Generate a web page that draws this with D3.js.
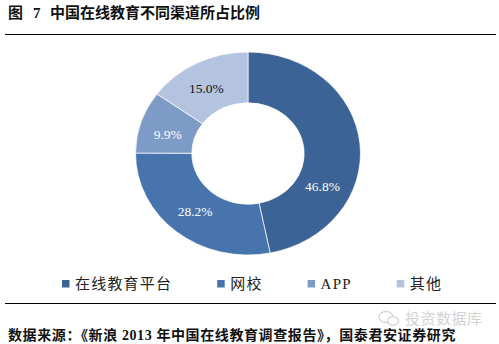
<!DOCTYPE html>
<html>
<head>
<meta charset="utf-8">
<script src="https://cdn.jsdelivr.net/npm/d3@7"></script>
<style>
  html, body { margin: 0; padding: 0; background: #fff; }
  svg { display: block; }
</style>
</head>
<body>
<svg id="chart" width="499" height="344"></svg>
<script>
// Share of online-education users by channel (%)
const categories = ["在线教育平台", "网校", "APP", "其他"];
const shares = [46.8, 28.2, 9.9, 15.0];
const valueLabels = ["46.8%", "28.2%", "9.9%", "15.0%"];
const colors = ["#3b6395", "#4774ad", "#7e9bc8", "#b4c4e0"];
const titleParts = ["图", "7", "中国在线教育不同渠道所占比例"];
const sourceText = "数据来源：《新浪 2013 年中国在线教育调查报告》，国泰君安证券研究";
const watermarkText = "投资数据库";

const W = 499, H = 344;
const svg = d3.select("#chart");
const serif = "'Liberation Serif', 'Noto Sans CJK SC', serif";
const cjk = "'Noto Sans CJK SC', 'Liberation Serif', sans-serif";

// Title: figure label, number and caption
const title = svg.append("text")
  .attr("y", 18)
  .attr("font-family", cjk).attr("font-weight", "bold")
  .attr("font-size", 15)
  .attr("fill", "#111");
[8, 33, 50].forEach((x, i) => {
  title.append("tspan").attr("x", x)
    .attr("font-family", i === 1 ? serif : cjk)
    .text(titleParts[i]);
});
// fit the caption to its printed width
const cap = title.selectAll("tspan").filter((d, i) => i === 2);
cap.attr("textLength", 210).attr("lengthAdjust", "spacing");

svg.append("line").attr("x1", 5).attr("x2", 496).attr("y1", 34.5).attr("y2", 34.5)
  .attr("stroke", "#000").attr("stroke-width", 1.2);
svg.append("line").attr("x1", 5).attr("x2", 496).attr("y1", 303.5).attr("y2", 303.5)
  .attr("stroke", "#000").attr("stroke-width", 1.2);

// Donut (drawn as a circle and stretched horizontally)
const cx = 248, cy = 153.5, sx = 1.108;
const rOuter = 101.5, rInner = 50.7;

const pie = d3.pie().sort(null).value(d => d)
  .startAngle(0).endAngle(2 * Math.PI);
const arcs = pie(shares);
const arc = d3.arc().innerRadius(rInner).outerRadius(rOuter);

const g = svg.append("g").attr("transform", `translate(${cx},${cy}) scale(${sx},1)`);
g.selectAll("path")
  .data(arcs)
  .join("path")
  .attr("d", arc)
  .attr("fill", (d, i) => colors[i])
  .attr("stroke", "#ffffff")
  .attr("stroke-width", 0.7)
  .attr("vector-effect", "non-scaling-stroke");

// Value labels placed around the ring
const labelR = 75;
const labelNudge = [32, 0, -3, -3]; // degrees, clockwise
svg.selectAll("text.val")
  .data(arcs)
  .join("text")
  .attr("class", "val")
  .attr("x", (d, i) => {
    const a = (d.startAngle + d.endAngle) / 2 + labelNudge[i] * Math.PI / 180;
    return cx + Math.sin(a) * labelR * sx;
  })
  .attr("y", (d, i) => {
    const a = (d.startAngle + d.endAngle) / 2 + labelNudge[i] * Math.PI / 180;
    return cy - Math.cos(a) * labelR;
  })
  .attr("dy", "0.35em")
  .attr("text-anchor", "middle")
  .attr("font-family", serif)
  .attr("font-size", 13.5)
  .attr("fill", (d, i) => i === 3 ? "#111" : "#fff")
  .text((d, i) => valueLabels[i]);

// Legend
const legend = svg.append("g");
let lx = 62;
const ly = 283.5;
categories.forEach((c, i) => {
  legend.append("rect")
    .attr("x", lx).attr("y", ly - 3.5)
    .attr("width", 7.5).attr("height", 7.5)
    .attr("fill", colors[i]);
  const t = legend.append("text")
    .attr("x", lx + 13).attr("y", ly)
    .attr("dy", "0.36em")
    .attr("font-family", serif)
    .attr("font-size", 15)
    .attr("letter-spacing", 1.2)
    .attr("fill", "#222")
    .text(c);
  const w = t.node().getComputedTextLength();
  lx = lx + 13 + w + 45;
});

// Source note
svg.append("text")
  .attr("x", 8).attr("y", 340)
  .attr("font-family", serif).attr("font-weight", "bold")
  .attr("font-size", 14).attr("letter-spacing", 0.6)
  .attr("fill", "#111")
  .text(sourceText);

// Watermark
const wm = svg.append("g").attr("opacity", 0.75);
const icon = wm.append("g").attr("transform", "translate(386,318)")
  .attr("fill", "none").attr("stroke", "#c9c9c9").attr("stroke-width", 1.3);
icon.append("ellipse").attr("cx", 0).attr("cy", -1).attr("rx", 7).attr("ry", 5.5);
icon.append("ellipse").attr("cx", 7).attr("cy", 3).attr("rx", 5.5).attr("ry", 4.3)
  .attr("fill", "#fff");
wm.append("text")
  .attr("x", 405).attr("y", 324)
  .attr("font-family", cjk).attr("font-size", 15)
  .attr("letter-spacing", 0.5)
  .attr("fill", "#c4c4c4")
  .text(watermarkText);
</script>
</body>
</html>
